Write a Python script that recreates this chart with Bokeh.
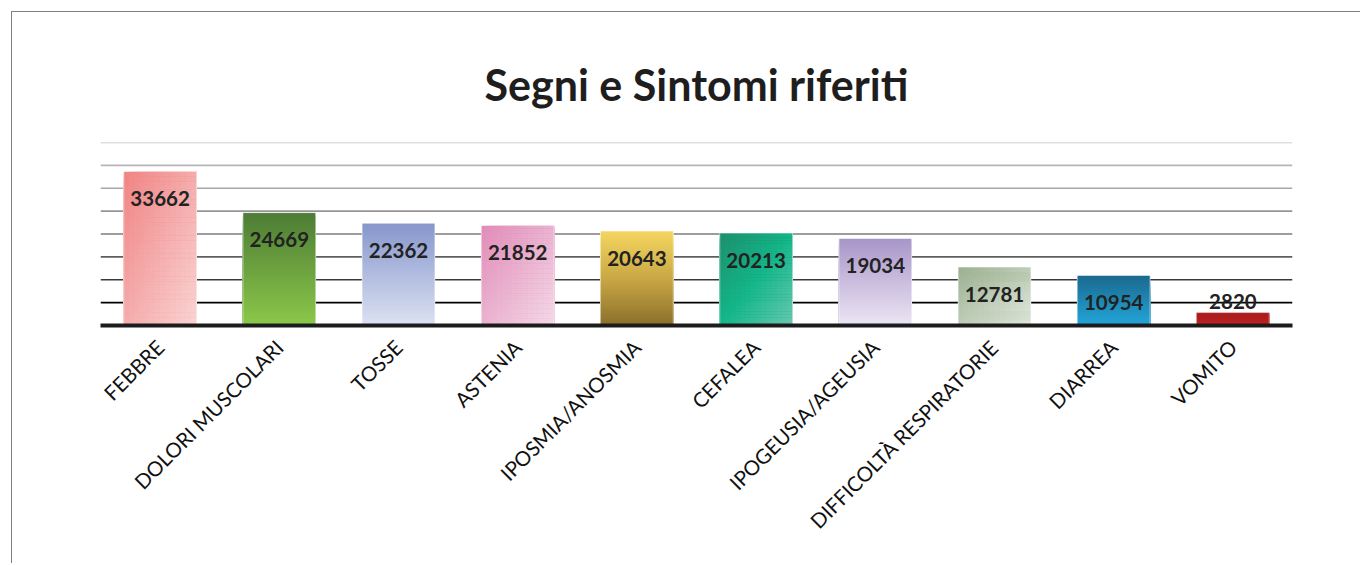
import math
from bokeh.plotting import figure
from bokeh.models import FixedTicker, Range1d
from bokeh.core.properties import value
from bokeh.embed import file_html
from bokeh.resources import INLINE

# ---------------- data ----------------
title_text = "Segni e Sintomi riferiti"
categories = ["FEBBRE", "DOLORI MUSCOLARI", "TOSSE", "ASTENIA", "IPOSMIA/ANOSMIA",
              "CEFALEA", "IPOGEUSIA/AGEUSIA", "DIFFICOLTÀ RESPIRATORIE", "DIARREA", "VOMITO"]
values = [33662, 24669, 22362, 21852, 20643, 20213, 19034, 12781, 10954, 2820]
grid_values = [5000, 10000, 15000, 20000, 25000, 30000, 35000, 40000]

# ---------------- styles ----------------
grid_colors = ["#000000", "#3a3a3a", "#5e5e5e", "#7c7c7c", "#969696", "#a8a8a8", "#b6b6b6", "#c0c0c0"]
gradients = [
    ("d", ["#f08484", "#fad4d4"]),
    ("v", ["#4d7c35", "#8cc84a"]),
    ("v", ["#8696cc", "#dce2f2"]),
    ("d", ["#e08cb8", "#f5dae8"]),
    ("v", ["#f5d660", "#c9a845", "#8b6f2a"]),
    ("d", ["#1d8f6c", "#14b68a", "#6cc8b2"]),
    ("v", ["#a895c9", "#ece6f3"]),
    ("d", ["#9bb090", "#e2e9df"]),
    ("v", ["#1b6a8e", "#23a5da"]),
    ("v", ["#a51b1b", "#c42222"]),
]
BAR_W = 0.61


def hex2rgb(h):
    h = h.lstrip("#")
    return [int(h[i:i + 2], 16) for i in (0, 2, 4)]


def interp(stops, t):
    t = min(max(t, 0.0), 1.0)
    n = len(stops) - 1
    pos = t * n
    k = min(int(pos), n - 1)
    f = pos - k
    a, b = hex2rgb(stops[k]), hex2rgb(stops[k + 1])
    c = [round(a[j] + (b[j] - a[j]) * f) for j in range(3)]
    return "#%02x%02x%02x" % tuple(c)


idx = list(range(len(categories)))

p = figure(width=1349, height=552, output_backend="svg", toolbar_location=None,
           x_range=Range1d(-0.5, len(categories) - 0.5), y_range=Range1d(0, max(grid_values)),
           y_axis_location=None, min_border_left=88, min_border_right=69,
           min_border_top=130, min_border_bottom=239)
p.outline_line_color = None
p.xgrid.visible = False
p.ygrid.visible = False
p.background_fill_color = "white"
p.border_fill_color = "white"
p.margin = (11, 0, 0, 11)
p.styles = {"border-left": "1.5px solid #808080", "border-top": "1.5px solid #808080"}

# title
p.title.text = title_text
p.title.text_font = "Lato"
p.title.text_font_size = "43px"
p.title.text_font_style = "bold"
p.title.text_color = "#1e1e1e"
p.title.align = "center"
p.title.standoff = 66

# grid lines
p.segment(x0=[-0.5] * len(grid_values), x1=[len(categories) - 0.5] * len(grid_values),
          y0=grid_values, y1=grid_values, line_color=grid_colors, line_width=1.6)

# gradient bars: painted as overlapping cells (later cells cover earlier ones)
L, R, B, T, C = [], [], [], [], []
for i, v in enumerate(values):
    kind, stops = gradients[i]
    ncols = 14 if kind == "d" else 1
    nrows = 60
    left0 = i - BAR_W / 2
    right0 = i + BAR_W / 2
    cw = BAR_W / ncols
    for r in range(nrows):
        top = v * (1 - r / nrows)
        fy = (r + 0.5) / nrows
        for c in range(ncols):
            fx = (c + 0.5) / ncols
            t = fy if kind == "v" else (fx + fy) / 2
            L.append(left0 + c * cw)
            R.append(right0)
            B.append(0)
            T.append(top)
            C.append(interp(stops, t))
p.quad(left=L, right=R, bottom=B, top=T, fill_color=C, line_color=None)
# light bar edge
p.quad(left=[i - BAR_W / 2 for i in idx], right=[i + BAR_W / 2 for i in idx],
       bottom=[0] * len(values), top=values, fill_color=None,
       line_color="white", line_alpha=0.55, line_width=1)

# value labels
offsets = [27 if v > 8000 else -11 for v in values]
p.text(x=idx, y=values, text=[str(v) for v in values], y_offset=offsets,
       text_align="center", text_baseline="middle", text_font=value("Lato"),
       text_font_style="bold", text_font_size="20.5px", text_color="#222222")

# x axis
ax = p.xaxis[0]
ax.ticker = FixedTicker(ticks=idx)
ax.major_label_overrides = {i: c for i, c in zip(idx, categories)}
ax.major_label_orientation = math.pi / 4
ax.major_label_text_font = "Lato"
ax.major_label_text_font_size = "20.5px"
ax.major_label_text_color = "#111111"
ax.major_label_standoff = 12
ax.major_tick_line_color = None
ax.minor_tick_line_color = None
ax.axis_line_width = 4
ax.axis_line_color = "#1c1c1c"

open("out.html", "w").write(file_html(p, INLINE))
